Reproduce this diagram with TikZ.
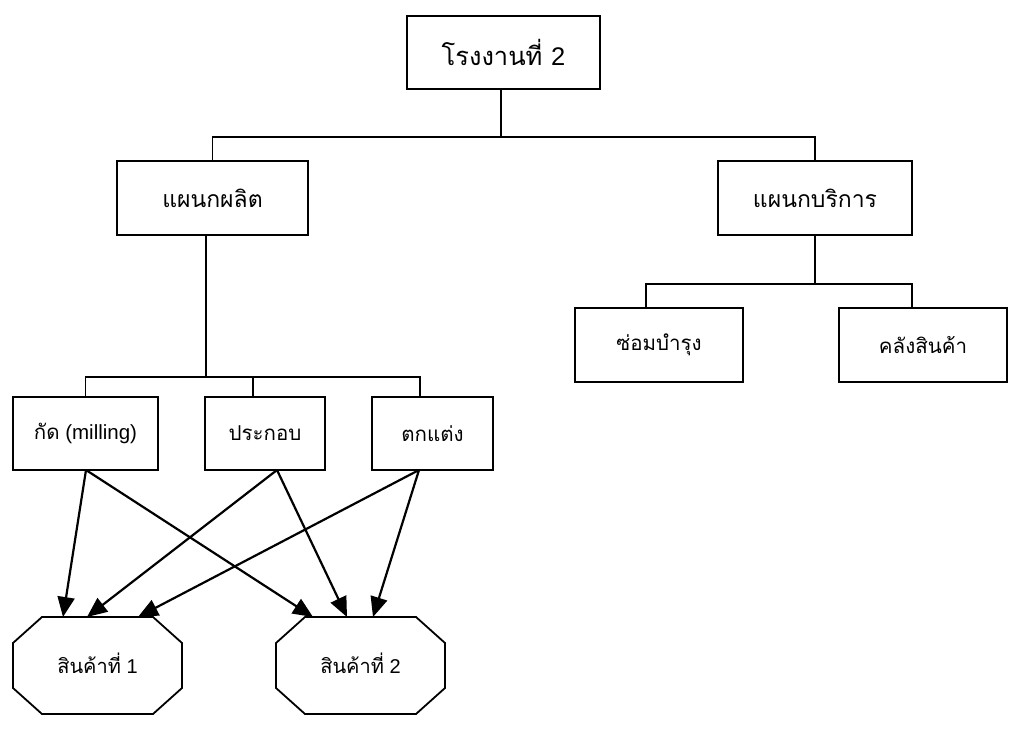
\documentclass[tikz,border=0pt]{standalone}
\usepackage{fontspec}
\setmainfont{Liberation Sans}
\newfontfamily\thai[Script=Thai]{Loma}
\usetikzlibrary{arrows.meta,calc}
\begin{document}
\begin{tikzpicture}[x=1pt,y=-1pt,
  box/.style={draw,line width=1.6pt,minimum width=#1,minimum height=74pt,inner sep=0pt,outer sep=0pt,font=\fontsize{20.5}{23}\selectfont},
  prodnode/.style={minimum width=169pt,minimum height=97pt,inner sep=0pt,outer sep=0pt,font=\fontsize{20}{23}\selectfont},
  conn/.style={line width=1.6pt},
  oct/.style={line width=1.8pt},
  arr/.style={line width=2.2pt,-{Triangle[length=20pt,width=17pt]}}]
\useasboundingbox (0,0) rectangle (1009,728);
% boxes
\node[box=193pt,minimum height=73pt,font=\fontsize{25.5}{28}\selectfont] (top) at (503.5,52.5) {\thai โรงงานที่ \rmfamily 2};
\node[box=191pt,font=\fontsize{23}{26}\selectfont] (prod) at (212.5,198) {\thai แผนกผลิต};
\node[box=194pt,font=\fontsize{23}{26}\selectfont] (serv) at (815,198) {\thai แผนกบริการ};
\node[box=168pt] (maint) at (659,345) {\thai ซ่อมบำรุง};
\node[box=168pt] (store) at (923,345) {\thai คลังสินค้า};
\node[box=145pt,minimum height=73pt] (kad) at (85.5,433.5) {{\thai กัด} (milling)};
\node[box=120pt,minimum height=73pt] (asm) at (265,433.5) {\thai ประกอบ};
\node[box=121pt,minimum height=73pt] (fin) at (432.5,433.5) {\thai ตกแต่ง};
\node[prodnode] (p1) at (97.5,665.5) {\raisebox{4pt}{{\thai สินค้าที่} 1}};
\node[prodnode] (p2) at (360.5,665.5) {\raisebox{4pt}{{\thai สินค้าที่} 2}};
% octagons
\foreach \p in {p1,p2}{
  \draw[oct] ($(\p.north west)+(29,0)$) -- ($(\p.north east)+(-29,0)$) -- ($(\p.north east)+(0,26)$) -- ($(\p.south east)+(0,-26)$) -- ($(\p.south east)+(-29,0)$) -- ($(\p.south west)+(29,0)$) -- ($(\p.south west)+(0,-26)$) -- ($(\p.north west)+(0,26)$) -- cycle;
}
% tree connectors
\coordinate (b1) at (501,137);
\draw[conn] (top.south -| b1) -- (b1);
\draw[conn] (prod.north) -- (prod.north |- b1) -- (serv.north |- b1) -- (serv.north);
\coordinate (b2) at (206,377);
\draw[conn] (prod.south -| b2) -- (b2);
\draw[conn] (kad.north) -- ($(kad.north)+(0,-20)$) -- ($(fin.north)+(-12.5,-20)$) -- ($(fin.north)+(-12.5,0)$);
\draw[conn] ($(asm.north)+(-12,0)$) -- ($(asm.north)+(-12,-20)$);
\coordinate (b3) at (815,284);
\draw[conn] (serv.south) -- (b3);
\draw[conn] ($(maint.north)+(-13,0)$) |- ($(store.north)+(-11,-24)$) -- ($(store.north)+(-11,0)$);
% arrows
\draw[arr] ($(kad.south)+(0.5,0)$) -- ($(p1.north west)+(50,0)$);
\draw[arr] ($(kad.south)+(0.5,0)$) -- ($(p2.north west)+(37,0)$);
\draw[arr] ($(asm.south)+(12,0)$) -- ($(p1.north west)+(74,0)$);
\draw[arr] ($(asm.south)+(12,0)$) -- ($(p2.north west)+(71,0)$);
\draw[arr] ($(fin.south)+(-13.5,0)$) -- ($(p1.north west)+(125,0)$);
\draw[arr] ($(fin.south)+(-13.5,0)$) -- ($(p2.north west)+(97,0)$);
\end{tikzpicture}
\end{document}
